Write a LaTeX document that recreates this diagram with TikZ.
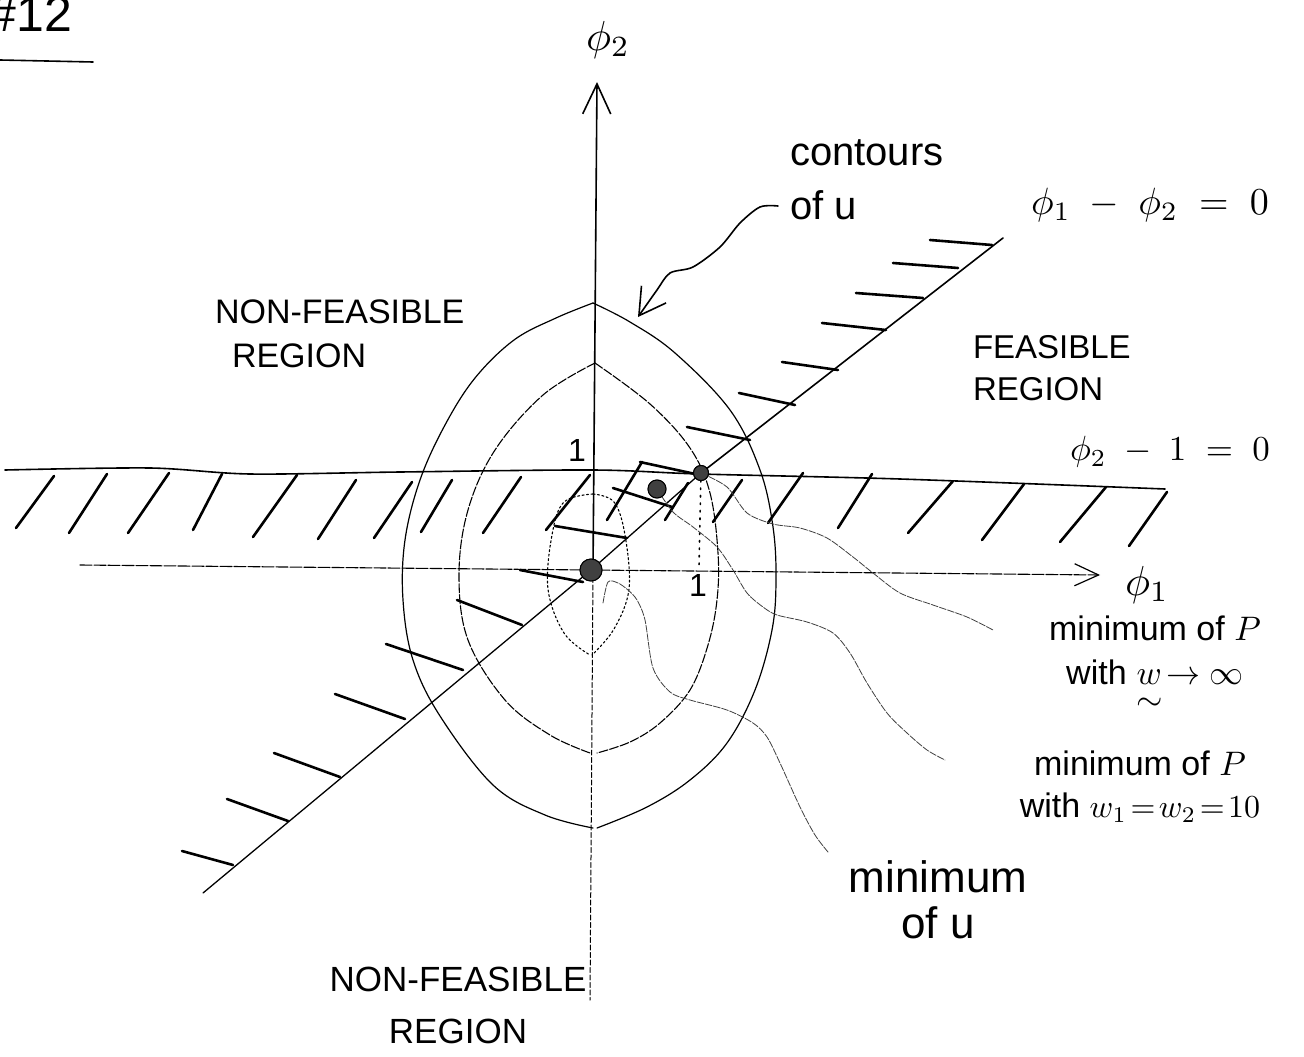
\documentclass[tikz,border=0pt]{standalone}
\usepackage{amsmath}
\usepackage{fontspec}
\setmainfont{Liberation Sans}
\usetikzlibrary{arrows.meta}
\newcommand{\mth}[2]{\scalebox{#1}{\fontsize{10}{12}\selectfont$#2$}}
\begin{document}
\begin{tikzpicture}[x=1pt,y=-1pt, line cap=round, line join=round,
  ln/.style={line width=1.6pt},
  hatchln/.style={line width=2.6pt},
  cont/.style={line width=1.2pt},
  contmid/.style={line width=1.1pt, dash pattern=on 9pt off 2pt},
  continner/.style={line width=1.1pt, dash pattern=on 2pt off 2.5pt},
  lead/.style={line width=0.8pt, black!75, dash pattern=on 7pt off 1.5pt},
  lab/.style={inner sep=0pt, outer sep=0pt},
  dotpt/.style={circle, fill=black!75, draw=black, line width=1pt, inner sep=0pt},
  barb/.style={-{Straight Barb[length=#1,width=28pt,line width=1.6pt]}}
  ]
\useasboundingbox (0,0) rectangle (1304,1057);
\fill[white] (0,0) rectangle (1304,1057);

% ---------- coordinates ----------
\coordinate (ybot) at (590,1000);
\coordinate (yorig) at (593,570);
\coordinate (ytop) at (597,82);
\coordinate (xleft) at (80,565);
\coordinate (xright) at (1100,575);
\coordinate (dlow) at (203,893);
\coordinate (dhigh) at (1003,238);
\coordinate (onefoot) at (699,566);

% ---------- header ----------
\node[lab, anchor=south east, font=\fontsize{50}{60}\selectfont] (num) at (72,32) {\#12};
\draw[ln] (0,60) -- (93,62);

% ---------- contours of u ----------
\draw[cont] plot[smooth, tension=0.6] coordinates {(593,303) (556,318) (514,340) (475,378) (445,425) (420,480) (405,540) (403,600) (413,660) (440,716) (493,785) (545,815) (593,828)};
\draw[cont] plot[smooth, tension=0.6] coordinates {(593,303) (630,322) (675,353) (730,410) (760,470) (773,527) (776,580) (772,630) (755,690) (727,743) (690,780) (647,807) (597,828)};
\draw[contmid] plot[smooth, tension=0.6] coordinates {(595,363) (543,395) (495,450) (468,510) (459,575) (468,640) (505,700) (550,735) (590,753)};
\draw[contmid] plot[smooth, tension=0.6] coordinates {(595,363) (650,404) (690,448) (710,493) (718,553) (717,600) (708,645) (690,690) (660,723) (630,742) (597,753)};
\draw[continner] plot[smooth, tension=0.6] coordinates {(593,494) (564,502) (552,535) (548,589) (564,633) (590,655)};
\draw[continner] plot[smooth, tension=0.6] coordinates {(593,494) (614,502) (625,535) (629,589) (614,629) (592,655)};

% ---------- axes ----------
\draw[ln, barb=30pt] (yorig) -- (ytop);
\draw[line width=1pt, dash pattern=on 5pt off 2.5pt] (yorig) -- (ybot);
\draw[line width=1.1pt, dash pattern=on 12pt off 2pt, -{Straight Barb[length=24pt,width=22pt,line width=1.2pt]}] (xleft) -- (xright);

% ---------- constraint phi2 - 1 = 0 ----------
\draw[ln] plot[smooth] coordinates {(5,470) (150,468) (250,474) (400,472) (593,470) (700,474) (900,479) (1165,489)};
\foreach \a/\b/\c/\d in {16/528/54/476, 69/533/107/474, 128/533/169/473, 193/530/222/474, 253/537/297/475,
  318/539/356/480, 374/538/412/482, 421/532/452/480, 483/533/521/477, 546/530/590/475, 607/520/642/462,
  665/520/688/483, 713/522/742/480, 768/523/803/473, 838/528/872/474, 908/533/953/481, 982/540/1024/484,
  1060/542/1106/487, 1129/546/1167/492}
  \draw[hatchln] (\a,\b) -- (\c,\d);

% ---------- dots ----------
\node[dotpt, minimum size=22pt] (umin) at (591,570) {};
\node[dotpt, minimum size=18pt] (pmin) at (657,489) {};
\node[dotpt, minimum size=15pt] (pinf) at (701,473) {};

% ---------- constraint phi1 - phi2 = 0 ----------
\draw[line width=1.3pt] (dlow) -- (umin.center) -- (pinf.center);
\draw[ln] (pinf.center) -- (dhigh);
\foreach \a/\b/\c/\d in {930/240/992/245, 893/263/958/268, 856/293/923/298, 822/323/886/330, 782/362/838/370,
  739/393/795/405, 687/427/750/440, 640/462/700/475, 613/488/672/507, 555/526/627/538, 520/570/583/582,
  457/600/522/625, 386/644/463/670, 335/694/405/719, 274/753/340/777, 227/799/288/821, 182/851/233/865}
  \draw[hatchln] (\a,\b) -- (\c,\d);

\draw[line width=1.6pt, dash pattern=on 1.5pt off 6pt] (pinf.center) -- (onefoot);

% ---------- labels ----------
\node[lab] (phi2lab) at (608,40) {\mth{4.2}{\phi_2}};
\node[lab] (phi1lab) at (1147,585) {\mth{4.2}{\phi_1}};
\node[lab, font=\fontsize{32}{38}\selectfont] (oneY) at (577,450) {1};
\node[lab, font=\fontsize{32}{38}\selectfont] (oneX) at (698,585) {1};
\node[lab] (eqdiag) at (1150,205) {\mth{3.8}{\phi_1\;-\;\phi_2\;=\;0}};
\node[lab] (eqhor) at (1170,452) {\mth{3.5}{\phi_2\;-\;1\;=\;0}};

\node[lab, anchor=north west, align=left, font=\fontsize{34}{44}\selectfont] (nf1) at (215,300) {NON-FEASIBLE\\\hspace*{17pt}REGION};
\node[lab, anchor=north west, align=left, font=\fontsize{33}{42}\selectfont] (feas) at (973,335) {FEASIBLE\\REGION};
\node[lab, align=center, font=\fontsize{35}{52}\selectfont] (nf2) at (458,1005) {NON-FEASIBLE\\REGION};

\node[lab, anchor=north west, align=left, font=\fontsize{40}{54}\selectfont] (contlab) at (790,140) {contours\\of u};
\node[lab, align=center, font=\fontsize{34}{44}\selectfont] (minPinf) at (1155,665) {minimum of \mth{3.4}{P}\\with \mth{3.4}{\underset{\raisebox{-1.5pt}{$\sim$}}{w}\!\to\infty}};
\node[lab, align=center, font=\fontsize{34}{42}\selectfont] (minP10) at (1140,787) {minimum of \mth{3.4}{P}\\with \mth{3.2}{w_1\!=\!w_2\!=\!10}};
\node[lab, align=center, font=\fontsize{44}{46}\selectfont] (minU) at (938,900) {minimum\\of u};

% ---------- leaders ----------
\coordinate (c1) at (778,206);
\draw[ln, -{Straight Barb[length=26pt,width=30pt,line width=1.6pt]}] plot[smooth] coordinates {(c1) (760,207) (740,223) (720,247) (693,267) (670,273) (657,290) (638,317)};

\coordinate (l1) at (993,630);
\draw[lead] plot[smooth] coordinates {(pinf) (727,487) (747,513) (773,524) (800,528) (827,538) (853,557) (873,573) (900,593) (933,605) (967,617) (l1)};
\coordinate (l2) at (945,760);
\draw[lead] plot[smooth] coordinates {(pmin) (673,512) (693,527) (717,547) (733,570) (747,593) (763,607) (777,615) (807,622) (833,633) (850,653) (867,683) (887,713) (907,733) (927,750) (l2)};
\coordinate (l3) at (828,852);
\draw[lead] plot[smooth] coordinates {(603,603) (608,582) (618,583) (628,590) (637,600) (645,620) (653,668) (670,692) (690,700) (727,710) (753,723) (767,737) (780,763) (800,807) (815,835) (l3)};

% redraw dots on top
\node[dotpt, minimum size=22pt] at (umin) {};
\node[dotpt, minimum size=18pt] at (pmin) {};
\node[dotpt, minimum size=15pt] at (pinf) {};
\end{tikzpicture}
\end{document}
